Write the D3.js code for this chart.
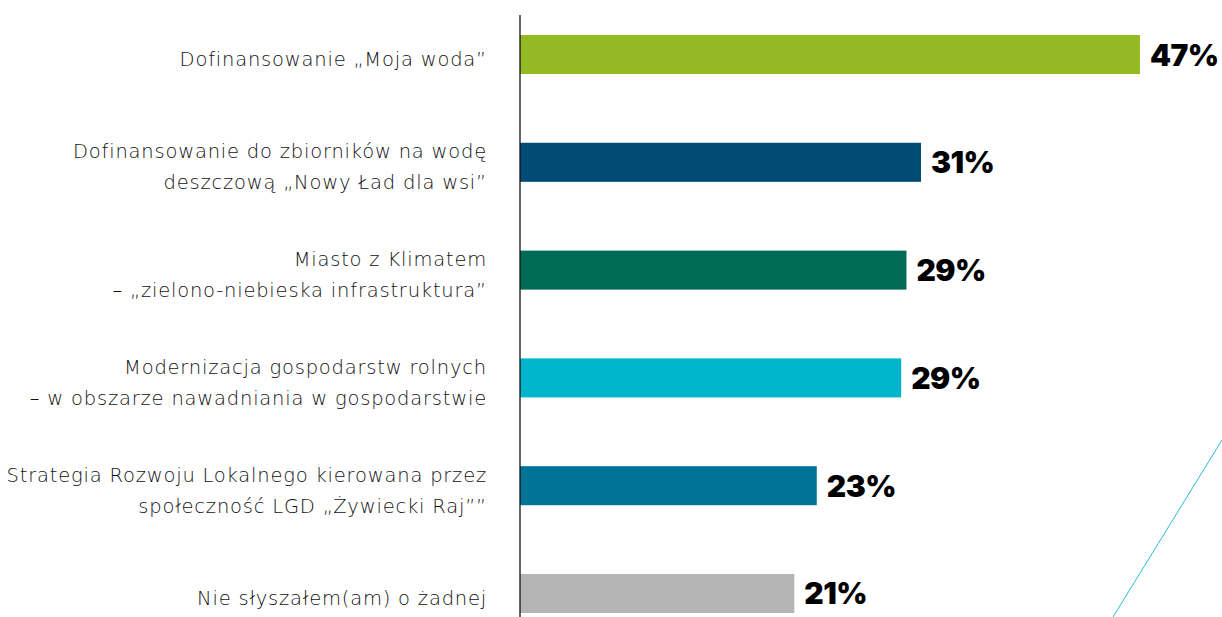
<!DOCTYPE html>
<html>
<head>
<meta charset="utf-8">
<script src="https://cdn.jsdelivr.net/npm/d3@7"></script>
<style>
  html, body { margin: 0; padding: 0; background: #ffffff; }
  svg { display: block; }
</style>
</head>
<body>
<svg id="chart" width="1222" height="617"></svg>
<script>
const categories = [
  ["Dofinansowanie „Moja woda”"],
  ["Dofinansowanie do zbiorników na wodę", "deszczową „Nowy Ład dla wsi”"],
  ["Miasto z Klimatem", "– „zielono-niebieska infrastruktura”"],
  ["Modernizacja gospodarstw rolnych", "– w obszarze nawadniania w gospodarstwie"],
  ["Strategia Rozwoju Lokalnego kierowana przez", "społeczność LGD „Żywiecki Raj””"],
  ["Nie słyszałem(am) o żadnej"]
];
const values = [47.0, 30.4, 29.3, 28.9, 22.5, 20.8];
const valueLabels = ["47%", "31%", "29%", "29%", "23%", "21%"];
const colors = ["#93b923", "#004a73", "#006b54", "#00b4cc", "#007396", "#b5b5b5"];

const svg = d3.select("#chart");
const ids = d3.range(categories.length);

const x = d3.scaleLinear().domain([0, 50]).range([520, 1179.5]);
const y = d3.scaleBand().domain(ids).range([35, 613]).paddingInner(0.638).paddingOuter(0);

// decorative diagonal line
const deco = d3.line().x(d => d[0]).y(d => d[1]);
svg.append("path")
  .attr("d", deco([[1222, 440], [1113, 617]]))
  .attr("stroke", "#2fb8dc").attr("stroke-width", 1).attr("fill", "none");

svg.selectAll("rect.bar").data(ids).enter().append("rect")
  .attr("class", "bar")
  .attr("x", x(0))
  .attr("y", i => y(i))
  .attr("width", i => x(values[i]) - x(0))
  .attr("height", y.bandwidth())
  .attr("fill", i => colors[i]);

// axis line
svg.append("line")
  .attr("x1", x(0)).attr("x2", x(0))
  .attr("y1", 15).attr("y2", 617)
  .attr("stroke", "#111").attr("stroke-width", 1.3);

// category labels
const lineH = 31;
const lbl = svg.selectAll("text.cat").data(ids).enter().append("text")
  .attr("class", "cat")
  .attr("text-anchor", "end")
  .attr("font-family", "'DejaVu Sans', sans-serif")
  .attr("font-weight", 200)
  .attr("font-size", 19.5)
  .attr("letter-spacing", 0.8)
  .attr("fill", "#111");
lbl.each(function(i) {
  const lines = categories[i];
  const c = y(i) + y.bandwidth() / 2 + 5;
  const first = c - (lines.length - 1) * lineH / 2;
  d3.select(this).selectAll("tspan").data(lines).enter().append("tspan")
    .attr("x", 487)
    .attr("y", (d, k) => first + k * lineH)
    .attr("dominant-baseline", "central")
    .text(d => d);
});

// value labels
svg.selectAll("text.val").data(ids).enter().append("text")
  .attr("class", "val")
  .attr("x", i => x(values[i]) + 10)
  .attr("y", i => y(i) + y.bandwidth() / 2)
  .attr("dominant-baseline", "central")
  .attr("font-family", "Inter, sans-serif")
  .attr("font-weight", 900)
  .attr("font-size", 30)
  .attr("letter-spacing", -0.5)
  .attr("fill", "#000")
  .text(i => valueLabels[i]);
</script>
</body>
</html>
